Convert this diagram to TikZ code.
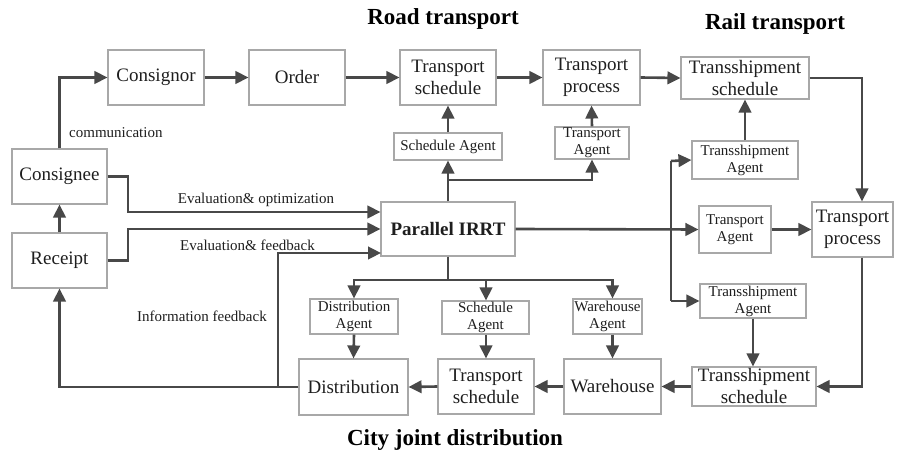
\documentclass[tikz,border=0pt]{standalone}
\usepackage{fontspec}
\setmainfont{Liberation Serif}
\usetikzlibrary{arrows.meta,calc}
\definecolor{edge}{HTML}{484848}
\definecolor{frame}{HTML}{A8A8A8}
\definecolor{ink}{HTML}{1E1E1E}
\tikzset{
  box/.style={draw=frame,line width=1.1bp,inner sep=0pt,align=center,text=ink,
    font=\fontsize{19bp}{22bp}\selectfont},
  agent/.style={box,font=\fontsize{15bp}{17bp}\selectfont},
  lbl/.style={text=ink,inner sep=0pt,font=\fontsize{15bp}{17bp}\selectfont},
  title/.style={text=black,inner sep=0pt,font=\fontsize{23bp}{26bp}\selectfont\bfseries},
  conn/.style={draw=edge,line width=2.6bp},
  arr/.style={conn,-{Triangle[length=13bp,width=12.5bp]}},
}
\begin{document}
\begin{tikzpicture}[x=1bp,y=-1bp]
\useasboundingbox (0,0) rectangle (897,456);

% titles
\node[title] (troad) at (443,19) {Road transport};
\node[title] (trail) at (775,24) {Rail transport};
\node[title] (tcity) at (455,440) {City joint distribution};

% road transport row
\node[box,minimum width=96bp,minimum height=55bp] (consignor) at (156,77.5) {Consignor};
\node[box,minimum width=96bp,minimum height=55bp] (order) at (297,77.5) {Order};
\node[box,minimum width=96bp,minimum height=55bp] (rsched) at (448,77.5) {Transport\\schedule};
\node[box,minimum width=97bp,minimum height=55bp] (rproc) at (591.5,77.5) {Transport\\process};
\node[agent,minimum width=108bp,minimum height=27bp] (sagent1) at (448,146.5) {Schedule Agent};
\node[agent,minimum width=74bp,minimum height=32bp] (tagent1) at (592,143) {Transport\\Agent};

% customers and the central platform
\node[box,minimum width=95bp,minimum height=55bp] (consignee) at (59.5,176.5) {Consignee};
\node[box,minimum width=95bp,minimum height=55bp] (receipt) at (59.5,260.5) {Receipt};
\node[box,minimum width=134bp,minimum height=54bp,font=\fontsize{19bp}{22bp}\selectfont\bfseries] (irrt) at (448,229) {Parallel IRRT};

% rail transport
\node[box,minimum width=128bp,minimum height=42bp] (tsched1) at (745,78) {Transshipment\\schedule};
\node[agent,minimum width=106bp,minimum height=38bp] (tagent2) at (745,160) {Transshipment\\Agent};
\node[agent,minimum width=72bp,minimum height=47bp] (tagent3) at (735,229.5) {Transport\\Agent};
\node[box,minimum width=81bp,minimum height=55bp] (rproc2) at (852.5,229.5) {Transport\\process};
\node[agent,minimum width=106bp,minimum height=34bp] (tagent4) at (753,301) {Transshipment\\Agent};
\node[box,minimum width=124bp,minimum height=39bp] (tsched2) at (754,386.5) {Transshipment\\schedule};

% city joint distribution
\node[box,minimum width=97bp,minimum height=55bp] (warehouse) at (612.5,386.5) {Warehouse};
\node[agent,minimum width=69bp,minimum height=35bp] (wagent) at (607.5,316.5) {Warehouse\\Agent};
\node[agent,minimum width=87bp,minimum height=33bp] (sagent2) at (485.5,317.5) {Schedule\\Agent};
\node[box,minimum width=96bp,minimum height=55bp] (tsched3) at (486,386.5) {Transport\\schedule};
\node[agent,minimum width=88bp,minimum height=35bp] (dagent) at (354,316.5) {Distribution\\Agent};
\node[box,minimum width=109bp,minimum height=56bp] (distribution) at (353.5,387) {Distribution};

% labels
\node[lbl,anchor=west] (lcomm) at (69,133) {communication};
\node[lbl] (levo) at (256,200) {Evaluation\& optimization};
\node[lbl] (levf) at (247.5,245) {Evaluation\& feedback};
\node[lbl] (linf) at (202,316) {Information feedback};

% helper points
\coordinate (cx) at (128,212);
\coordinate (rx2) at (128,229);
\coordinate (ub) at (448,180);
\coordinate (bus) at (448,280);
\coordinate (fb) at (278,387);
\coordinate (fbe) at (381,253);
\coordinate (rx) at (862,0);
\coordinate (vtop) at (671,161);
\coordinate (vbot) at (671,301);

% road chain
\draw[arr] (consignee.north) |- (consignor.west);
\draw[arr] (consignor.east) -- (order.west);
\draw[arr] (order.east) -- (rsched.west);
\draw[arr] (rsched.east) -- (rproc.west);
\draw[arr] (rproc.east) -- (tsched1.west);
\draw[arr] (sagent1.north) -- (rsched.south);
\draw[arr] (tagent1.north) -- (rproc.south);
\draw[arr] (irrt.north) -- (sagent1.south);
\draw[arr] (ub) -| (tagent1.south);

% customers to platform
\draw[arr] (consignee.east) -| (cx) -- (cx -| irrt.west);
\draw[arr] (receipt.east) -| (rx2) -- (irrt.west);
\draw[arr] (receipt.north) -- (consignee.south);
\draw[arr] (distribution.west) -| (receipt.south);
\draw[arr] (fb) |- (fbe);

% platform to distribution agents
\draw[arr] (irrt.south) -- (bus) -| (dagent.north);
\draw[arr] (bus) -| (wagent.north -| warehouse.north);
\draw[arr] (bus -| tsched3.north) -- (sagent2.north -| tsched3.north);
\draw[arr] (dagent.south) -- (distribution.north);
\draw[arr] (sagent2.south -| tsched3.north) -- (tsched3.north);
\draw[arr] (wagent.south -| warehouse.north) -- (warehouse.north);
\draw[arr] (tsched2.west) -- (warehouse.east);
\draw[arr] (warehouse.west) -- (tsched3.east);
\draw[arr] (tsched3.west) -- (distribution.east);

% rail chain
\draw[arr] (irrt.east) -- (tagent3.west);
\draw[conn] (vtop) -- (vbot);
\draw[arr] (vtop) -- (tagent2.west);
\draw[arr] (vbot) -- (tagent4.west);
\draw[arr] (tagent3.east) -- (rproc2.west);
\draw[arr] (tagent2.north) -- (tsched1.south);
\draw[arr] (tsched1.east) -| (rx |- rproc2.north);
\draw[arr] (rx |- rproc2.south) |- (tsched2.east);
\draw[arr] (tagent4.south) -- (tsched2.north -| tagent4.south);
\end{tikzpicture}
\end{document}
